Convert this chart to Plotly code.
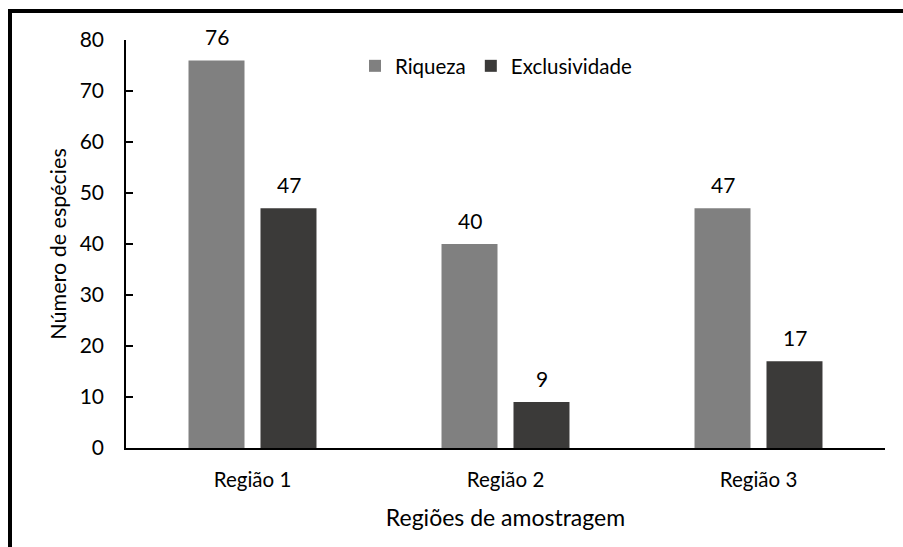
import plotly.graph_objects as go

# Species counts per sampling region
regioes = ["Região 1", "Região 2", "Região 3"]
riqueza = [76, 40, 47]
exclusividade = [47, 9, 17]
y_ticks = [0, 10, 20, 30, 40, 50, 60, 70, 80]

FONT = "Lato, 'Open Sans', sans-serif"
COR_RIQ = "#808080"
COR_EXC = "#3b3a39"

W, H = 903, 547
ML, MR, MT, MB = 126, 18, 40, 99
PW, PH = W - ML - MR, H - MT - MB

fig = go.Figure()
fig.add_trace(go.Bar(name="Riqueza", x=regioes, y=riqueza,
                     marker=dict(color=COR_RIQ, line=dict(width=0))))
fig.add_trace(go.Bar(name="Exclusividade", x=regioes, y=exclusividade,
                     marker=dict(color=COR_EXC, line=dict(width=0))))

# value labels above each bar
for serie, sinal in ((riqueza, -1), (exclusividade, 1)):
    for reg, v in zip(regioes, serie):
        fig.add_annotation(x=reg, y=v, text=str(v), showarrow=False,
                           xshift=sinal * 36, yshift=24,
                           font=dict(family=FONT, size=21, color="#000"))

def px_x(x):
    return (x - ML) / PW

def px_y(y):
    return (H - MB - y) / PH

# outer frame
fig.add_shape(type="rect", xref="paper", yref="paper",
              x0=px_x(10), x1=px_x(930), y0=px_y(570), y1=px_y(11),
              line=dict(color="#000", width=4), fillcolor="rgba(0,0,0,0)")

fig.update_layout(
    width=W, height=H,
    margin=dict(l=ML, r=MR, t=MT, b=MB),
    paper_bgcolor="white", plot_bgcolor="white",
    barmode="group", bargap=0.431, bargroupgap=0.222,
    font=dict(family=FONT, size=21, color="#000"),
    showlegend=True,
    legend=dict(orientation="h", x=px_x(355), y=px_y(66), xanchor="left", yanchor="middle",
                font=dict(family=FONT, size=20.5), bgcolor="rgba(0,0,0,0)",
                itemwidth=30, traceorder="normal"),
    xaxis=dict(showline=True, linecolor="#000", linewidth=1.5, ticks="",
               showgrid=False, ticklabelstandoff=13,
               tickfont=dict(family=FONT, size=20.5),
               title=dict(text="Regiões de amostragem", font=dict(family=FONT, size=23), standoff=20)),
    yaxis=dict(range=[0, 80], tickvals=y_ticks, showline=True, linecolor="#000", linewidth=1.5,
               ticks="inside", ticklen=7, tickcolor="#000", tickwidth=1.5,
               showgrid=False, zeroline=False, ticklabelstandoff=16,
               tickfont=dict(family=FONT, size=21),
               title=dict(text="Número de espécies", font=dict(family=FONT, size=21.5), standoff=7)),
)

fig.write_html("out.html")
